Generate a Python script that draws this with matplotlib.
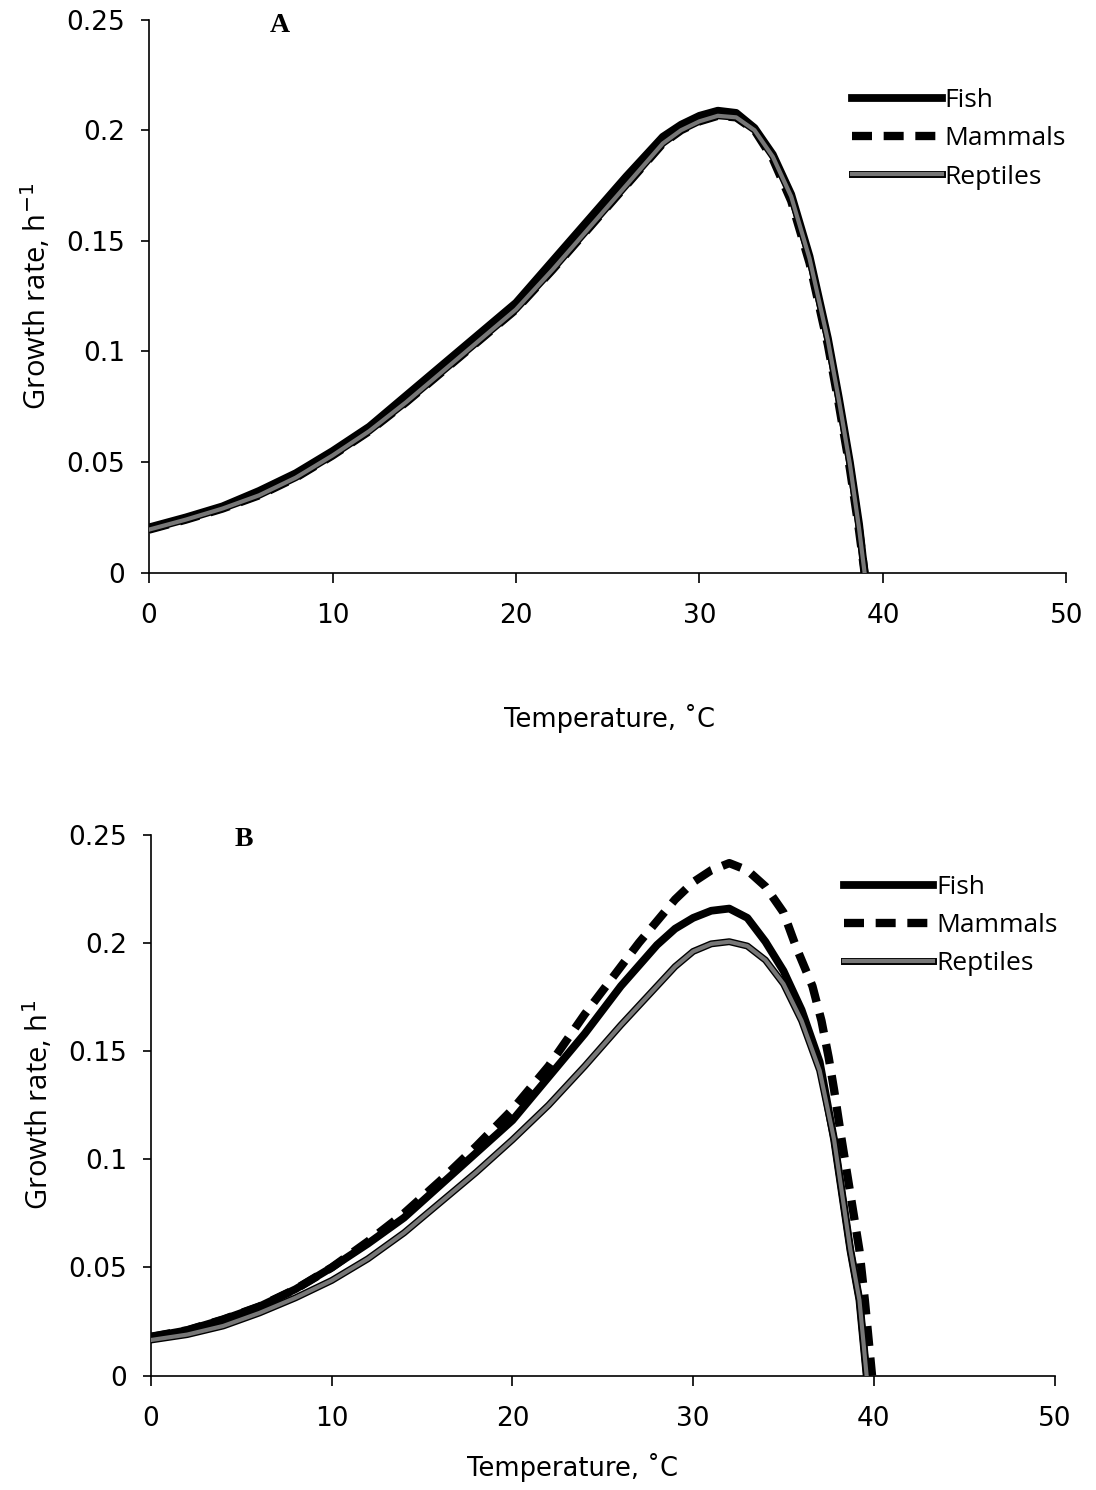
import matplotlib
matplotlib.use("Agg")
import matplotlib.pyplot as plt
import matplotlib.patheffects as pe

# ---------------- data ----------------
tA = [0, 2, 4, 6, 8, 10, 12, 14, 16, 18, 20, 22, 24, 26, 28, 29, 30, 31, 32, 33, 34, 35, 36, 37, 37.6, 38.2, 38.7, 39.0]
fishA = [0.0205, 0.025, 0.030, 0.037, 0.045, 0.055, 0.066, 0.080, 0.094, 0.108, 0.122, 0.141, 0.160, 0.179, 0.197,
         0.2025, 0.2065, 0.2088, 0.2078, 0.201, 0.189, 0.171, 0.143, 0.106, 0.079, 0.050, 0.022, 0.0]
mammalsA = [0.0195, 0.024, 0.029, 0.035, 0.043, 0.053, 0.064, 0.077, 0.091, 0.105, 0.119, 0.137, 0.156, 0.175, 0.194,
            0.200, 0.204, 0.2065, 0.2058, 0.200, 0.187, 0.168, 0.140, 0.103, 0.076, 0.047, 0.019, 0.0]
reptilesA = [0.0195, 0.024, 0.029, 0.035, 0.043, 0.053, 0.064, 0.077, 0.091, 0.105, 0.119, 0.137, 0.156, 0.175, 0.194,
             0.200, 0.204, 0.2065, 0.2058, 0.200, 0.188, 0.170, 0.142, 0.105, 0.078, 0.049, 0.020, 0.0]

tB_fish = [0, 2, 4, 6, 8, 10, 12, 14, 16, 18, 20, 22, 24, 26, 28, 29, 30, 31, 32, 33, 34, 35, 36, 37, 37.8, 38.7,
           39.2, 39.6]
fishB = [0.018, 0.021, 0.026, 0.032, 0.040, 0.050, 0.061, 0.073, 0.088, 0.103, 0.118, 0.138, 0.158, 0.180, 0.199,
         0.2065, 0.2115, 0.2148, 0.2158, 0.2115, 0.2005, 0.187, 0.169, 0.145, 0.109, 0.058, 0.035, 0.0]
tB_rep = [0, 2, 4, 6, 8, 10, 12, 14, 16, 18, 20, 22, 24, 26, 28, 29, 30, 31, 32, 33, 34, 35, 36, 37, 37.8, 38.7,
          39.2, 39.6]
reptilesB = [0.0165, 0.019, 0.023, 0.029, 0.036, 0.044, 0.054, 0.066, 0.080, 0.094, 0.109, 0.125, 0.143, 0.162, 0.180,
             0.189, 0.196, 0.1995, 0.2005, 0.1985, 0.192, 0.181, 0.164, 0.141, 0.109, 0.058, 0.035, 0.0]
tB_mam = [0, 2, 4, 6, 8, 10, 12, 14, 16, 18, 20, 22, 23, 24, 25, 26, 27, 28, 29, 30, 31, 32, 33, 34, 35, 35.7,
          36.6, 37.1, 37.5, 37.8, 38.2, 39.2, 39.5, 39.9]
mammalsB = [0.018, 0.021, 0.026, 0.032, 0.040, 0.050, 0.062, 0.075, 0.090, 0.106, 0.123, 0.143, 0.155, 0.167, 0.178,
            0.189, 0.200, 0.210, 0.220, 0.228, 0.2335, 0.2368, 0.2335, 0.226, 0.214, 0.198, 0.180, 0.164, 0.147,
            0.132, 0.110, 0.058, 0.035, 0.0]

xticks = [0, 10, 20, 30, 40, 50]
yticks = [0, 0.05, 0.1, 0.15, 0.2, 0.25]
ytick_labels = ["0", "0.05", "0.1", "0.15", "0.2", "0.25"]
series_names = ["Fish", "Mammals", "Reptiles"]

# ---------------- figure ----------------
fig = plt.figure(figsize=(10.96, 14.90), dpi=100)
axA = fig.add_axes([0.1360, 0.6156, 0.8370, 0.3713])
axB = fig.add_axes([0.1378, 0.0767, 0.8244, 0.3632])

rep_fx = [pe.Stroke(linewidth=5.0, foreground="black"), pe.Normal()]


def draw(ax, t_f, f, t_m, m, t_r, r, panel, ylab, xlab_xy, leg_y, letter_x):
    ax.plot(t_m, m, color="black", lw=6.0, ls=(0, (2.4, 1.4)), solid_capstyle="butt",
            dash_capstyle="butt", label=series_names[1], zorder=2)
    ax.plot(t_f, f, color="black", lw=5.6, solid_joinstyle="round", label=series_names[0], zorder=3)
    ax.plot(t_r, r, color="#777777", lw=3.0, solid_joinstyle="round", label=series_names[2],
            path_effects=rep_fx, zorder=4)
    ax.set_xlim(0, 50)
    ax.set_ylim(0, 0.25)
    ax.set_xticks(xticks)
    ax.set_xticklabels([str(v) for v in xticks])
    ax.set_yticks(yticks)
    ax.set_yticklabels(ytick_labels)
    for s in ["top", "right"]:
        ax.spines[s].set_visible(False)
    for s in ["left", "bottom"]:
        ax.spines[s].set_linewidth(1.2)
    ax.tick_params(axis="x", direction="out", length=7, width=1.2, pad=15, labelsize=19)
    ax.tick_params(axis="y", direction="out", length=6, width=1.2, pad=11, labelsize=19)
    for lab in ax.get_xticklabels() + ax.get_yticklabels():
        lab.set_fontfamily("DejaVu Sans")
    ax.set_ylabel(ylab, fontsize=21, family="Open Sans", labelpad=10)
    ax.text(xlab_xy[0], xlab_xy[1], "Temperature, ˚C", transform=ax.transAxes, ha="center", va="center",
            fontsize=18.5, family="DejaVu Sans")
    handles, labels = ax.get_legend_handles_labels()
    order = [1, 0, 2]
    ax.legend([handles[i] for i in order], [labels[i] for i in order],
              loc="upper left", bbox_to_anchor=(0.755, leg_y), frameon=False,
              handlelength=3.4, handletextpad=0.1, labelspacing=0.5,
              prop={"family": "Open Sans", "size": 19}, borderaxespad=0)
    ax.text(letter_x, 0.99, panel, transform=ax.transAxes, ha="left", va="center",
            fontsize=20, fontweight="bold", family="Liberation Serif")


draw(axA, tA, fishA, tA, mammalsA, tA, reptilesA, "A", "Growth rate, h$^{-1}$", (0.502, -0.263), 0.895, 0.132)
draw(axB, tB_fish, fishB, tB_mam, mammalsB, tB_rep, reptilesB, "B", "Growth rate, h$^{1}$", (0.467, -0.17),
     0.945, 0.093)

fig.savefig("out.png", dpi=100)
